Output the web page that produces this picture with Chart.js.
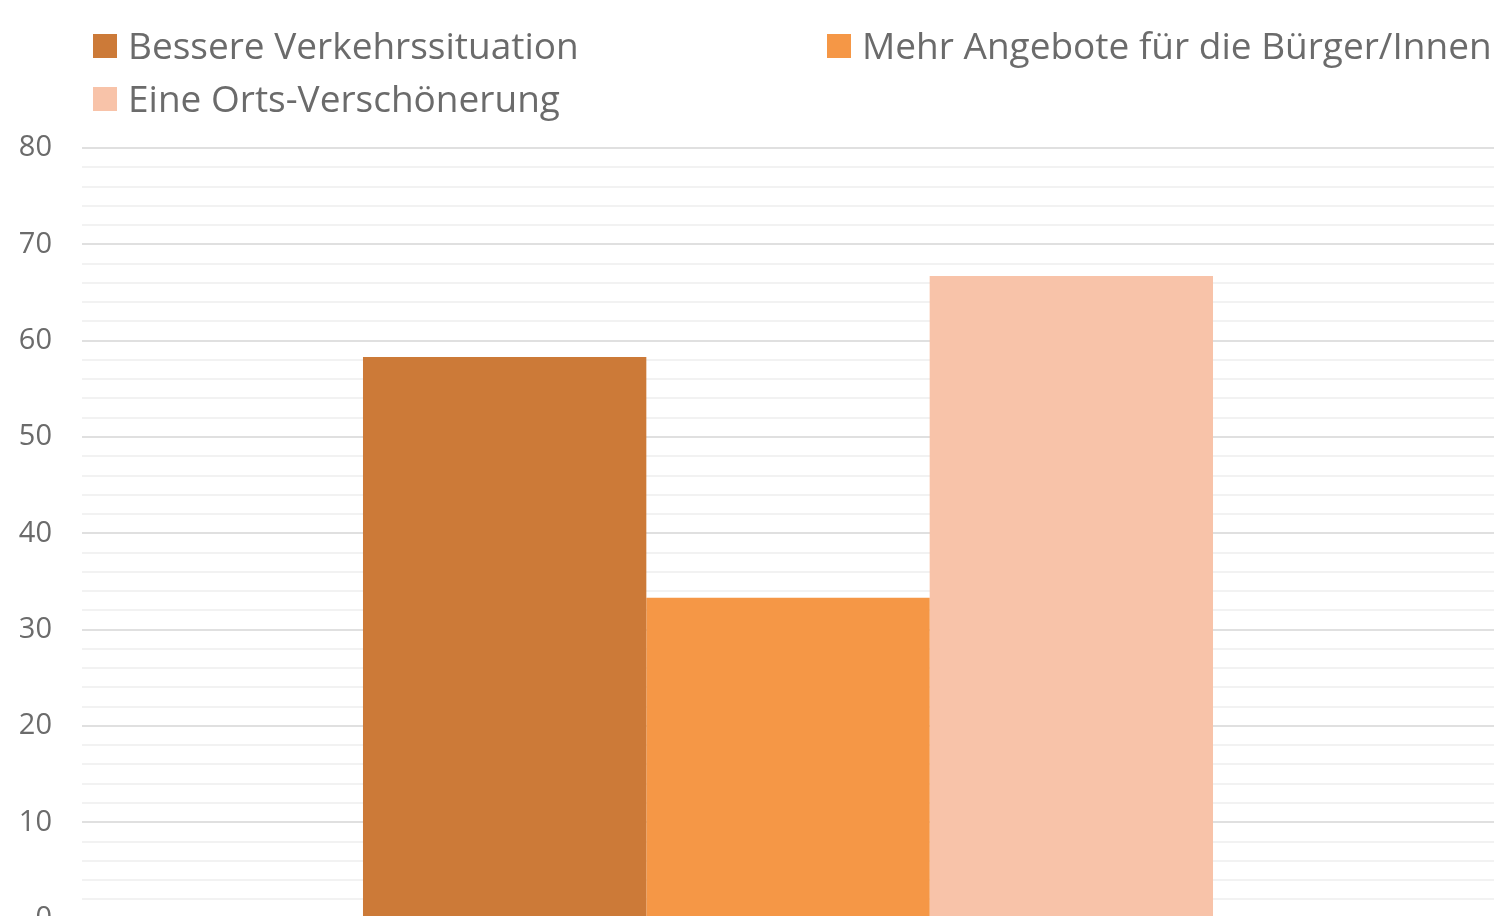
<!DOCTYPE html>
<html>
<head>
<meta charset="utf-8">
<script src="https://cdn.jsdelivr.net/npm/chart.js@4/dist/chart.umd.min.js"></script>
<style>
    html, body { margin: 0; padding: 0; background: #fff; overflow: hidden; }
    #wrap { position: relative; width: 1506px; height: 966px; }
    #legend { position: absolute; left: 0; top: 0; width: 1506px; height: 130px; font-family: "Open Sans", sans-serif; color: #6b6b6b; }
    .item { position: absolute; white-space: nowrap; font-size: 37px; line-height: 40px; }
    .item i { position: absolute; left: -35px; top: 9px; width: 24px; height: 24px; }
</style>
</head>
<body>
<div id="wrap">
    <canvas id="chart"></canvas>
    <div id="legend"></div>
</div>
<script>
// values
const categories = [''];
const seriesNames = ['Bessere Verkehrssituation', 'Mehr Angebote für die Bürger/Innen', 'Eine Orts-Verschönerung'];
const seriesValues = [[58.3], [33.3], [66.7]];
const seriesColors = ['#cc7a38', '#f59746', '#f8c3a9'];
const yTicks = [0, 10, 20, 30, 40, 50, 60, 70, 80];

// legend laid out in two columns like the original
const legendPos = [[128, 25], [862, 25], [128, 78]];
const legend = document.getElementById('legend');
seriesNames.forEach((name, i) => {
    const el = document.createElement('div');
    el.className = 'item';
    el.style.left = legendPos[i][0] + 'px';
    el.style.top = legendPos[i][1] + 'px';
    el.innerHTML = '<i style="background:' + seriesColors[i] + '"></i>' + name;
    legend.appendChild(el);
});

const ctx = document.getElementById('chart').getContext('2d');
new Chart(ctx, {
    type: 'bar',
    data: {
        labels: categories,
        datasets: seriesNames.map((name, i) => ({
            label: name,
            data: seriesValues[i],
            backgroundColor: seriesColors[i],
            borderWidth: 0,
            categoryPercentage: 0.602,
            barPercentage: 1
        }))
    },
    options: {
        responsive: true,
        maintainAspectRatio: false,
        animation: false,
        layout: { padding: { top: 148, right: 12, bottom: 22, left: 0 } },
        plugins: {
            legend: { display: false },
            tooltip: { enabled: false }
        },
        scales: {
            x: { display: false },
            y: {
                min: 0,
                max: 80,
                ticks: {
                    stepSize: 2,
                    autoSkip: false,
                    padding: 30,
                    color: '#6b6b6b',
                    font: { family: 'Open Sans', size: 29 },
                    callback: v => yTicks.includes(v) ? v : ''
                },
                grid: {
                    drawTicks: false,
                    lineWidth: 2,
                    color: c => c.tick && c.tick.value % 10 === 0 ? '#e0e0e0' : '#f2f2f2'
                },
                border: { display: false },
                afterFit: scale => { scale.width = 82; }
            }
        }
    }
});
</script>
</body>
</html>
